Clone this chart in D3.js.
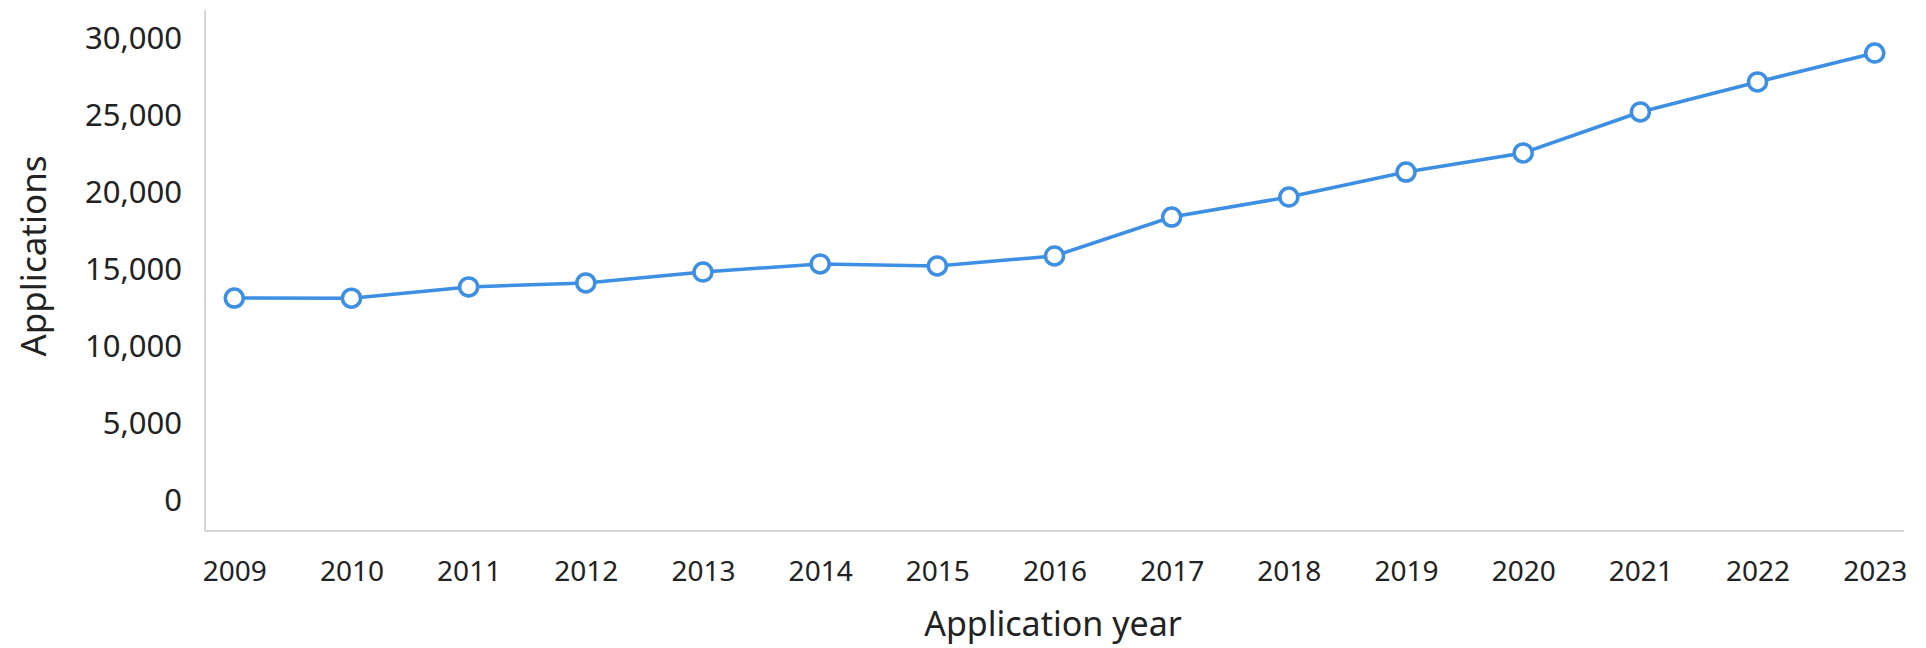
<!DOCTYPE html>
<html>
<head>
<meta charset="utf-8">
<script src="https://cdn.jsdelivr.net/npm/d3@7"></script>
<style>
  html, body { margin: 0; padding: 0; background: #fff; }
  text { font-family: "Noto Sans", "Open Sans", sans-serif; fill: #222; }
</style>
</head>
<body>
<svg id="chart"></svg>
<script>
// Applications per year
const years = ["2009", "2010", "2011", "2012", "2013", "2014", "2015", "2016",
               "2017", "2018", "2019", "2020", "2021", "2022", "2023"];
const applications = [13180, 13170, 13900, 14160, 14870, 15390, 15260, 15910,
                      18440, 19740, 21360, 22600, 25260, 27210, 29090];
const yTicks = [0, 5000, 10000, 15000, 20000, 25000, 30000];

const width = 1926;
const height = 648;

const svg = d3.select("#chart")
    .attr("width", width)
    .attr("height", height);

const axisX = 205, axisY = 531, axisTop = 10, axisRight = 1904;

const x = d3.scalePoint()
    .domain(years)
    .range([axisX, axisRight])
    .padding(0.25);

const y = d3.scaleLinear()
    .domain([0, 30000])
    .range([501, 39]);

// axis lines
svg.append("line")
    .attr("x1", axisX).attr("x2", axisX)
    .attr("y1", axisTop).attr("y2", axisY)
    .attr("stroke", "#d4d4d4").attr("stroke-width", 2);
svg.append("line")
    .attr("x1", axisX).attr("x2", axisRight)
    .attr("y1", axisY).attr("y2", axisY)
    .attr("stroke", "#d4d4d4").attr("stroke-width", 2);

// y tick labels
const yAxis = svg.append("g")
    .attr("transform", `translate(${axisX}, 0)`)
    .call(d3.axisLeft(y).tickValues(yTicks).tickFormat(d3.format(",")).tickSize(0).tickPadding(23));
yAxis.select(".domain").remove();
yAxis.selectAll("text")
    .attr("font-size", 31)
    .attr("font-family", null)
    .attr("fill", null);

// x tick labels
const xAxis = svg.append("g")
    .attr("transform", `translate(0, ${axisY})`)
    .call(d3.axisBottom(x).tickSize(0).tickPadding(30));
xAxis.select(".domain").remove();
xAxis.selectAll("text")
    .attr("font-size", 28)
    .attr("font-family", null)
    .attr("fill", null);

// axis titles
svg.append("text")
    .attr("x", 1053).attr("y", 627)
    .attr("text-anchor", "middle")
    .attr("dominant-baseline", "middle")
    .attr("font-size", 34)
    .text("Application year");

svg.append("text")
    .attr("transform", "translate(37, 256) rotate(-90)")
    .attr("text-anchor", "middle")
    .attr("dominant-baseline", "middle")
    .attr("font-size", 35)
    .text("Applications");

const data = years.map((d, i) => ({ year: d, value: applications[i] }));

const line = d3.line()
    .x(d => x(d.year))
    .y(d => y(d.value));

svg.append("path")
    .datum(data)
    .attr("fill", "none")
    .attr("stroke", "#3d8fe3")
    .attr("stroke-width", 3.5)
    .attr("d", line);

svg.append("g")
    .selectAll("circle")
    .data(data)
    .enter()
    .append("circle")
    .attr("cx", d => x(d.year))
    .attr("cy", d => y(d.value))
    .attr("r", 9)
    .attr("fill", "#fff")
    .attr("stroke", "#3d8fe3")
    .attr("stroke-width", 3.5);
</script>
</body>
</html>
